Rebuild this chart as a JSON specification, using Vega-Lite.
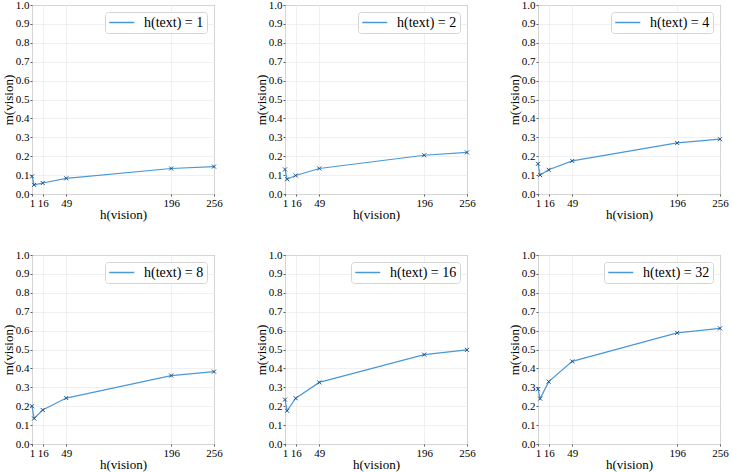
{
  "$schema": "https://vega.github.io/schema/vega-lite/v6.json",
  "padding": {"left": 1, "top": -2, "right": 2, "bottom": 2},
  "datasets": {
    "d": [
      {"t": 1, "label": "h(text) = 1", "x": 1, "y": 0.093},
      {"t": 1, "label": "h(text) = 1", "x": 4, "y": 0.048},
      {"t": 1, "label": "h(text) = 1", "x": 16, "y": 0.058},
      {"t": 1, "label": "h(text) = 1", "x": 49, "y": 0.083},
      {"t": 1, "label": "h(text) = 1", "x": 196, "y": 0.135},
      {"t": 1, "label": "h(text) = 1", "x": 256, "y": 0.145},
      {"t": 2, "label": "h(text) = 2", "x": 1, "y": 0.13},
      {"t": 2, "label": "h(text) = 2", "x": 4, "y": 0.078},
      {"t": 2, "label": "h(text) = 2", "x": 16, "y": 0.098},
      {"t": 2, "label": "h(text) = 2", "x": 49, "y": 0.135},
      {"t": 2, "label": "h(text) = 2", "x": 196, "y": 0.205},
      {"t": 2, "label": "h(text) = 2", "x": 256, "y": 0.22},
      {"t": 4, "label": "h(text) = 4", "x": 1, "y": 0.16},
      {"t": 4, "label": "h(text) = 4", "x": 4, "y": 0.1},
      {"t": 4, "label": "h(text) = 4", "x": 16, "y": 0.128},
      {"t": 4, "label": "h(text) = 4", "x": 49, "y": 0.175},
      {"t": 4, "label": "h(text) = 4", "x": 196, "y": 0.27},
      {"t": 4, "label": "h(text) = 4", "x": 256, "y": 0.29},
      {"t": 8, "label": "h(text) = 8", "x": 1, "y": 0.2},
      {"t": 8, "label": "h(text) = 8", "x": 4, "y": 0.135},
      {"t": 8, "label": "h(text) = 8", "x": 16, "y": 0.18},
      {"t": 8, "label": "h(text) = 8", "x": 49, "y": 0.243},
      {"t": 8, "label": "h(text) = 8", "x": 196, "y": 0.362},
      {"t": 8, "label": "h(text) = 8", "x": 256, "y": 0.383},
      {"t": 16, "label": "h(text) = 16", "x": 1, "y": 0.235},
      {"t": 16, "label": "h(text) = 16", "x": 4, "y": 0.176},
      {"t": 16, "label": "h(text) = 16", "x": 16, "y": 0.242},
      {"t": 16, "label": "h(text) = 16", "x": 49, "y": 0.326},
      {"t": 16, "label": "h(text) = 16", "x": 196, "y": 0.473},
      {"t": 16, "label": "h(text) = 16", "x": 256, "y": 0.498},
      {"t": 32, "label": "h(text) = 32", "x": 1, "y": 0.29},
      {"t": 32, "label": "h(text) = 32", "x": 4, "y": 0.24},
      {"t": 32, "label": "h(text) = 32", "x": 16, "y": 0.33},
      {"t": 32, "label": "h(text) = 32", "x": 49, "y": 0.437},
      {"t": 32, "label": "h(text) = 32", "x": 196, "y": 0.588},
      {"t": 32, "label": "h(text) = 32", "x": 256, "y": 0.612}
    ]
  },
  "data": {"name": "d"},
  "columns": 3,
  "spacing": {"row": 61, "column": 71},
  "bounds": "flush",
  "resolve": {"scale": {"color": "independent"}},
  "concat": [
    {
      "width": 182, "height": 189,
      "transform": [{"filter": "datum.t == 1"}],
      "encoding": {
        "x": {"field": "x", "type": "quantitative", "scale": {"domain": [1, 256], "nice": false, "zero": false}, "axis": {"values": [1, 16, 49, 196, 256], "title": "h(vision)"}},
        "y": {"field": "y", "type": "quantitative", "scale": {"domain": [0, 1], "nice": false}, "axis": {"values": [0, 0.1, 0.2, 0.3, 0.4, 0.5, 0.6, 0.7, 0.8, 0.9, 1.0], "format": ".1f", "title": "m(vision)"}}
      },
      "layer": [
        {"mark": {"type": "line", "strokeWidth": 1.2}, "encoding": {"color": {"field": "label", "type": "nominal", "scale": {"range": ["#4a98d8"]}, "legend": {"title": null}}}},
        {"mark": {"type": "point", "shape": "M-1,-1L1,1M-1,1L1,-1", "filled": false, "size": 16, "strokeWidth": 1, "color": "#20507f", "opacity": 1}}
      ]
    },
    {
      "width": 182, "height": 189,
      "transform": [{"filter": "datum.t == 2"}],
      "encoding": {
        "x": {"field": "x", "type": "quantitative", "scale": {"domain": [1, 256], "nice": false, "zero": false}, "axis": {"values": [1, 16, 49, 196, 256], "title": "h(vision)"}},
        "y": {"field": "y", "type": "quantitative", "scale": {"domain": [0, 1], "nice": false}, "axis": {"values": [0, 0.1, 0.2, 0.3, 0.4, 0.5, 0.6, 0.7, 0.8, 0.9, 1.0], "format": ".1f", "title": "m(vision)"}}
      },
      "layer": [
        {"mark": {"type": "line", "strokeWidth": 1.2}, "encoding": {"color": {"field": "label", "type": "nominal", "scale": {"range": ["#4a98d8"]}, "legend": {"title": null}}}},
        {"mark": {"type": "point", "shape": "M-1,-1L1,1M-1,1L1,-1", "filled": false, "size": 16, "strokeWidth": 1, "color": "#20507f", "opacity": 1}}
      ]
    },
    {
      "width": 182, "height": 189,
      "transform": [{"filter": "datum.t == 4"}],
      "encoding": {
        "x": {"field": "x", "type": "quantitative", "scale": {"domain": [1, 256], "nice": false, "zero": false}, "axis": {"values": [1, 16, 49, 196, 256], "title": "h(vision)"}},
        "y": {"field": "y", "type": "quantitative", "scale": {"domain": [0, 1], "nice": false}, "axis": {"values": [0, 0.1, 0.2, 0.3, 0.4, 0.5, 0.6, 0.7, 0.8, 0.9, 1.0], "format": ".1f", "title": "m(vision)"}}
      },
      "layer": [
        {"mark": {"type": "line", "strokeWidth": 1.2}, "encoding": {"color": {"field": "label", "type": "nominal", "scale": {"range": ["#4a98d8"]}, "legend": {"title": null}}}},
        {"mark": {"type": "point", "shape": "M-1,-1L1,1M-1,1L1,-1", "filled": false, "size": 16, "strokeWidth": 1, "color": "#20507f", "opacity": 1}}
      ]
    },
    {
      "width": 182, "height": 189,
      "transform": [{"filter": "datum.t == 8"}],
      "encoding": {
        "x": {"field": "x", "type": "quantitative", "scale": {"domain": [1, 256], "nice": false, "zero": false}, "axis": {"values": [1, 16, 49, 196, 256], "title": "h(vision)"}},
        "y": {"field": "y", "type": "quantitative", "scale": {"domain": [0, 1], "nice": false}, "axis": {"values": [0, 0.1, 0.2, 0.3, 0.4, 0.5, 0.6, 0.7, 0.8, 0.9, 1.0], "format": ".1f", "title": "m(vision)"}}
      },
      "layer": [
        {"mark": {"type": "line", "strokeWidth": 1.2}, "encoding": {"color": {"field": "label", "type": "nominal", "scale": {"range": ["#4a98d8"]}, "legend": {"title": null}}}},
        {"mark": {"type": "point", "shape": "M-1,-1L1,1M-1,1L1,-1", "filled": false, "size": 16, "strokeWidth": 1, "color": "#20507f", "opacity": 1}}
      ]
    },
    {
      "width": 182, "height": 189,
      "transform": [{"filter": "datum.t == 16"}],
      "encoding": {
        "x": {"field": "x", "type": "quantitative", "scale": {"domain": [1, 256], "nice": false, "zero": false}, "axis": {"values": [1, 16, 49, 196, 256], "title": "h(vision)"}},
        "y": {"field": "y", "type": "quantitative", "scale": {"domain": [0, 1], "nice": false}, "axis": {"values": [0, 0.1, 0.2, 0.3, 0.4, 0.5, 0.6, 0.7, 0.8, 0.9, 1.0], "format": ".1f", "title": "m(vision)"}}
      },
      "layer": [
        {"mark": {"type": "line", "strokeWidth": 1.2}, "encoding": {"color": {"field": "label", "type": "nominal", "scale": {"range": ["#4a98d8"]}, "legend": {"title": null}}}},
        {"mark": {"type": "point", "shape": "M-1,-1L1,1M-1,1L1,-1", "filled": false, "size": 16, "strokeWidth": 1, "color": "#20507f", "opacity": 1}}
      ]
    },
    {
      "width": 182, "height": 189,
      "transform": [{"filter": "datum.t == 32"}],
      "encoding": {
        "x": {"field": "x", "type": "quantitative", "scale": {"domain": [1, 256], "nice": false, "zero": false}, "axis": {"values": [1, 16, 49, 196, 256], "title": "h(vision)"}},
        "y": {"field": "y", "type": "quantitative", "scale": {"domain": [0, 1], "nice": false}, "axis": {"values": [0, 0.1, 0.2, 0.3, 0.4, 0.5, 0.6, 0.7, 0.8, 0.9, 1.0], "format": ".1f", "title": "m(vision)"}}
      },
      "layer": [
        {"mark": {"type": "line", "strokeWidth": 1.2}, "encoding": {"color": {"field": "label", "type": "nominal", "scale": {"range": ["#4a98d8"]}, "legend": {"title": null}}}},
        {"mark": {"type": "point", "shape": "M-1,-1L1,1M-1,1L1,-1", "filled": false, "size": 16, "strokeWidth": 1, "color": "#20507f", "opacity": 1}}
      ]
    }
  ],
  "config": {
    "font": "Liberation Serif, DejaVu Serif, serif",
    "view": {"stroke": "#7a7a7a", "strokeWidth": 1},
    "axis": {
      "grid": true, "gridColor": "#ececec", "gridWidth": 0.8,
      "domain": false, "tickColor": "#333333", "tickSize": 2, "tickWidth": 0.8,
      "labelFont": "Liberation Serif, DejaVu Serif, serif", "labelFontSize": 11, "labelColor": "#000000", "labelPadding": 1,
      "labelFlush": false, "labelOverlap": false,
      "titleFont": "Liberation Serif, DejaVu Serif, serif", "titleFontSize": 13, "titleFontWeight": "normal", "titleColor": "#000000"
    },
    "axisX": {"titlePadding": 0},
    "axisY": {"titlePadding": 0},
    "legend": {
      "orient": "top-right", "offset": 7, "padding": 3.5,
      "strokeColor": "#d5d5d5", "fillColor": "#ffffff", "cornerRadius": 3,
      "labelFont": "Liberation Serif, DejaVu Serif, serif", "labelFontSize": 14, "labelColor": "#000000",
      "symbolType": "M-1,0L3,0", "symbolSize": 156, "symbolStrokeWidth": 1.5, "labelOffset": 21.5
    }
  }
}
